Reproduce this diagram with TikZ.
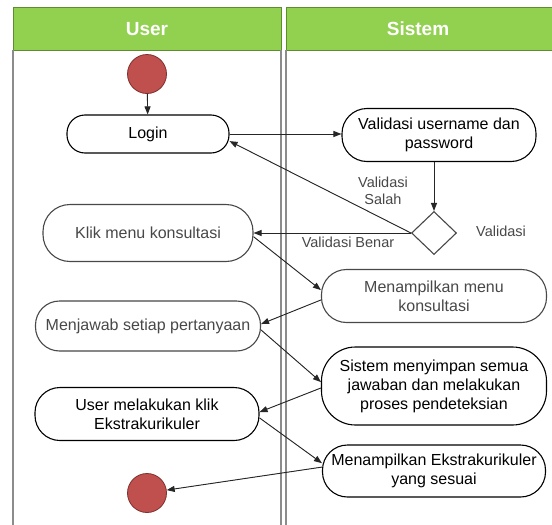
\documentclass[tikz,border=0pt]{standalone}
\usepackage{fontspec}
\setmainfont{Liberation Sans}
\usetikzlibrary{arrows.meta,shapes.geometric}
\definecolor{hdr}{HTML}{92D050}
\definecolor{hdrline}{HTML}{5E8C31}
\definecolor{dotred}{HTML}{C0504D}
\definecolor{dotline}{HTML}{7F2F2D}
\definecolor{lanegray}{HTML}{8C8C8C}
\definecolor{ghost}{HTML}{484848}
\tikzset{
  act/.style={draw=black, line width=1.1pt, align=center,
    font=\fontsize{16}{19}\selectfont, inner sep=2pt},
  ghostact/.style={act, draw=ghost, text=ghost},
  flow/.style={-{Triangle[length=8pt,width=6pt]}, line width=0.9pt, draw=black!85, fill=black!85},
  dot/.style={circle, fill=dotred, draw=dotline, line width=0.8pt,
    minimum size=39pt, inner sep=0pt},
  hdrbox/.style={fill=hdr, draw=hdrline, line width=1pt},
  hdrtext/.style={text=white, font=\fontsize{19}{22}\selectfont\bfseries},
  lane/.style={draw=lanegray, line width=1.2pt},
  glabel/.style={text=ghost, font=\fontsize{14.5}{17}\selectfont, align=center},
}
\begin{document}
\begin{tikzpicture}[x=1pt,y=-1pt]
\useasboundingbox[fill=white] (0,0) rectangle (552,525);
% swimlanes
\draw[hdrbox] (13,7) rectangle (281,50);
\draw[hdrbox] (286,7) rectangle (553,50);
\node[hdrtext] (huser) at (147,29) {User};
\node[hdrtext] (hsis) at (418,29) {Sistem};
\draw[lane] (13,50) -- (13,525);
\draw[lane] (281,50) -- (281,525);
\draw[lane] (286,50) -- (286,525);
% nodes
\node[dot] (start) at (147,74) {};
\node[act, rounded corners=18pt, minimum width=162pt, minimum height=38pt] (login) at (148,134) {Login};
\node[act, rounded corners=25pt, minimum width=194pt, minimum height=53pt] (valid) at (439,135) {Validasi username dan\\password};
\node[diamond, draw=ghost, line width=1.1pt, aspect=1, inner sep=0pt, minimum width=45pt, minimum height=43pt] (dia) at (434,233) {};
\node[glabel] (lsalah) at (383,191) {Validasi\\Salah};
\node[glabel] (lbenar) at (348,242) {Validasi Benar};
\node[glabel] (lvalid) at (501,231) {Validasi};
\node[ghostact, rounded corners=27pt, minimum width=210pt, minimum height=57pt] (klik) at (148,233) {Klik menu konsultasi};
\node[ghostact, rounded corners=25pt, minimum width=225pt, minimum height=53pt] (menu) at (434,296) {Menampilkan menu\\konsultasi};
\node[ghostact, rounded corners=24pt, minimum width=225pt, minimum height=50pt] (jawab) at (148,326) {Menjawab setiap pertanyaan};
\node[act, rounded corners=34pt, minimum width=225pt, minimum height=78pt] (simpan) at (434,386) {Sistem menyimpan semua\\jawaban dan melakukan\\proses pendeteksian};
\node[act, rounded corners=25pt, minimum width=224pt, minimum height=53pt] (klikek) at (147,414) {User melakukan klik\\Ekstrakurikuler};
\node[act, rounded corners=25pt, minimum width=223pt, minimum height=52pt] (tampil) at (434,471) {Menampilkan Ekstrakurikuler\\yang sesuai};
\node[dot] (stop) at (147,493) {};
% connectors
\draw[flow] (start) -- (login);
\draw[flow] (login.east) -- (login.east -| valid.west);
\draw[flow] (valid.south -| dia.north) -- (dia.north);
\draw[flow] (dia.west) -- (login.-5);
\draw[flow] (dia.west) -- (klik.east);
\draw[flow] (klik.-2) -- (menu.177);
\draw[flow] (menu.182) -- (jawab.1.5);
\draw[flow] (jawab.-2) -- (simpan.178.5);
\draw[flow] (simpan.181) -- (klikek.1);
\draw[flow] (klikek.-2) -- (tampil.176.5);
\draw[flow] (tampil.178) -- (stop);
\end{tikzpicture}
\end{document}
